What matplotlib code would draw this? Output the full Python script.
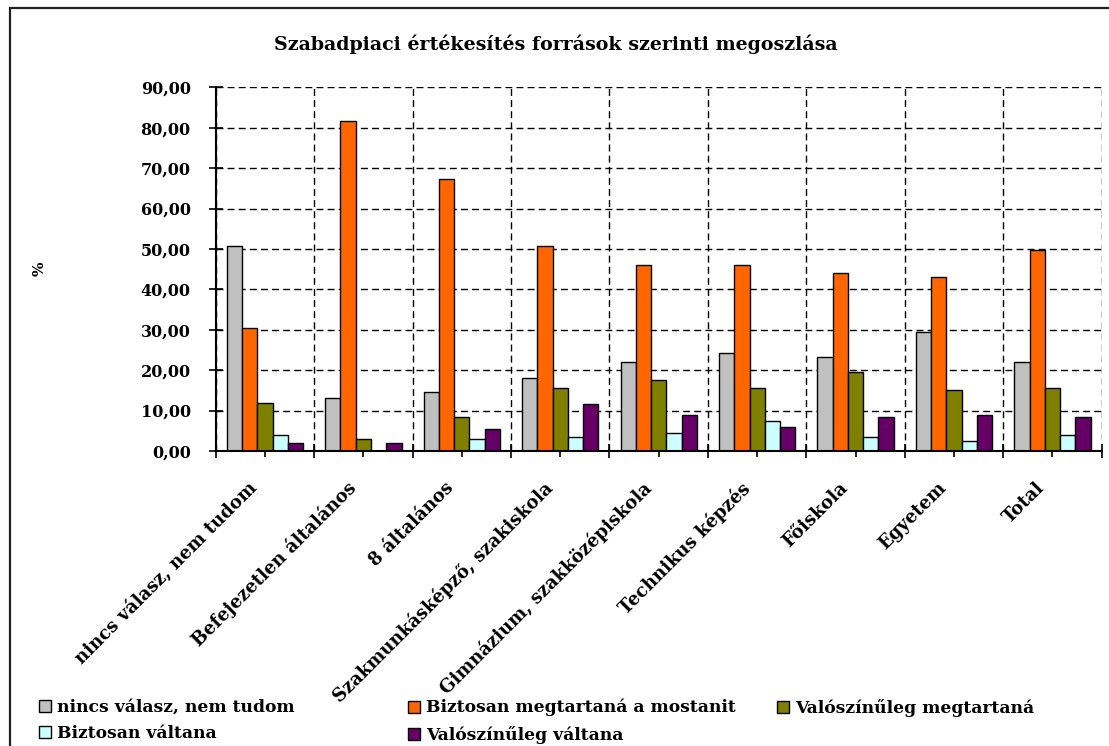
import matplotlib
matplotlib.use('Agg')
import matplotlib.pyplot as plt
import matplotlib.transforms as mtransforms
import numpy as np
from matplotlib.patches import Rectangle
from matplotlib.ticker import FuncFormatter, FixedLocator

categories = ["nincs válasz, nem tudom", "Befejezetlen általános", "8 általános",
              "Szakmunkásképző, szakiskola", "Gimnázium, szakközépiskola",
              "Technikus képzés", "Főiskola", "Egyetem", "Total"]
series_names = ["nincs válasz, nem tudom", "Biztosan megtartaná a mostanit",
                "Valószínűleg megtartaná", "Biztosan váltana", "Valószínűleg váltana"]
nincs_valasz = [50.7, 13.0, 14.6, 18.1, 22.1, 24.2, 23.2, 29.4, 22.1]
biztosan_megtartana = [30.4, 81.6, 67.4, 50.7, 46.1, 46.1, 44.1, 43.0, 49.7]
valoszinuleg_megtartana = [12.0, 2.9, 8.5, 15.5, 17.6, 15.5, 19.6, 15.0, 15.5]
biztosan_valtana = [3.9, 0.0, 2.9, 3.4, 4.4, 7.4, 3.4, 2.4, 3.9]
valoszinuleg_valtana = [1.9, 1.9, 5.4, 11.6, 8.9, 5.9, 8.4, 8.9, 8.4]
colors = ["#C0C0C0", "#FF6600", "#808000", "#CCFFFF", "#660066"]
title = "Szabadpiaci értékesítés források szerinti megoszlása"
y_ticks = [0, 10, 20, 30, 40, 50, 60, 70, 80, 90]

series = [nincs_valasz, biztosan_megtartana, valoszinuleg_megtartana,
          biztosan_valtana, valoszinuleg_valtana]

FONT = 'DejaVu Serif'
W, H = 1109, 746
fig = plt.figure(figsize=(W / 100, H / 100), dpi=100)
fig.patch.set_facecolor('white')

# outer frame
fig.add_artist(Rectangle((10 / W, -0.1), 1.2, 1 - 8 / H + 0.1, transform=fig.transFigure,
                         fill=False, edgecolor='#222222', lw=1.6))

ax = fig.add_axes([215.7 / W, 1 - 451 / H, (1101.7 - 215.7) / W, (451 - 87.3) / H])
n = len(categories)
x = np.arange(n) + 0.5
w = 0.155
for k, (vals, c, name) in enumerate(zip(series, colors, series_names)):
    ax.bar(x + (k - 2) * w, vals, width=w, color=c, edgecolor='black', linewidth=1.0,
           label=name, zorder=3)

ax.set_xlim(0, n)
ax.set_ylim(0, 90)
ax.yaxis.set_major_locator(FixedLocator(y_ticks))
ax.yaxis.set_major_formatter(FuncFormatter(lambda v, p: f"{v:.2f}".replace('.', ',')))
ax.xaxis.set_major_locator(FixedLocator(np.arange(n + 1)))
ax.xaxis.set_minor_locator(FixedLocator(x))
ax.tick_params(axis='x', which='major', direction='inout', length=10, width=1.2)
ax.tick_params(axis='x', which='minor', direction='out', length=4, width=1.2, pad=10)
ax.tick_params(axis='y', which='major', direction='inout', length=10, width=1.2, pad=13)
ax.set_xticklabels([])
ax.set_xticklabels(categories, minor=True, rotation=45, ha='right', va='top',
                   rotation_mode='anchor', fontsize=13, fontweight='bold', family=FONT)
offset = mtransforms.ScaledTranslation(-17 / 100, -8 / 100, fig.dpi_scale_trans)
for lab in ax.get_xticklabels(minor=True):
    lab.set_transform(lab.get_transform() + offset)
for lab in ax.get_yticklabels():
    lab.set_fontweight('bold')
    lab.set_family(FONT)
    lab.set_fontsize(11.5)

ax.grid(True, which='major', color='black', linestyle=(0, (5, 3)), linewidth=1.0, zorder=0)
ax.set_axisbelow(True)
for s in ['top', 'right']:
    ax.spines[s].set_visible(False)
for s in ['left', 'bottom']:
    ax.spines[s].set_linewidth(1.5)
    ax.spines[s].set_zorder(4)

ax.set_ylabel('%', fontsize=11, fontweight='bold', family=FONT)
ax.yaxis.set_label_coords((47 - 215.7) / (1101.7 - 215.7), 0.5)

fig.text(556 / W, 1 - 44 / H, title, ha='center', va='center', fontsize=13.7,
         fontweight='bold', family=FONT)

# legend in three equal-width columns
handles = [Rectangle((0, 0), 1, 1, facecolor=c, edgecolor='black', lw=1.0) for c in colors]
cols = [[0, 3], [1, 4], [2]]
col_x = [39, 408, 777]
for cx, idx in zip(col_x, cols):
    fig.legend([handles[i] for i in idx], [series_names[i] for i in idx],
               loc='upper left', bbox_to_anchor=(cx / W, 1 - 699 / H), frameon=False,
               borderpad=0, borderaxespad=0, handlelength=0.7, handleheight=0.7,
               handletextpad=0.35, labelspacing=0.55,
               prop={'family': FONT, 'weight': 'bold', 'size': 12.3})

fig.savefig('out.png', dpi=100)
